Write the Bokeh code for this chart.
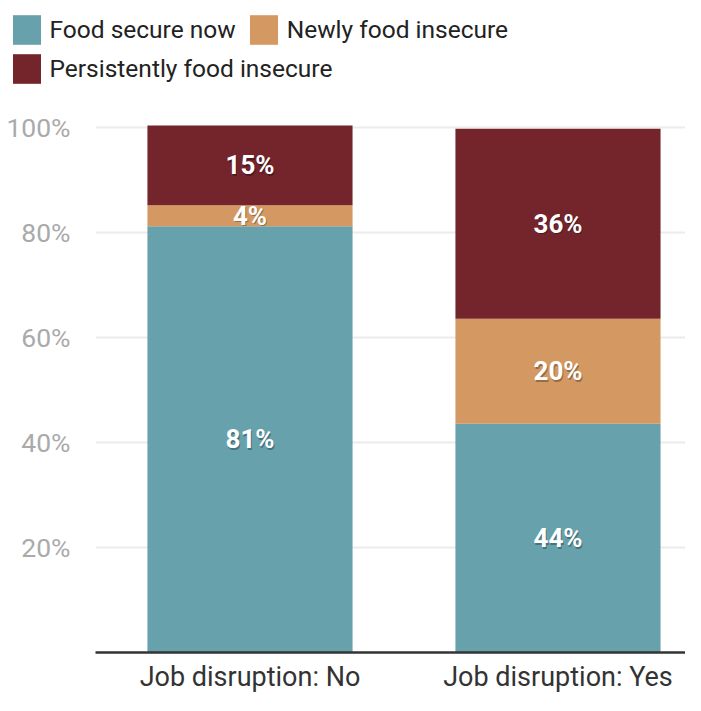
from bokeh.plotting import figure
from bokeh.layouts import column
from bokeh.models import ColumnDataSource, FixedTicker, Range1d, Legend, LegendItem
from bokeh.core.properties import value
from bokeh.embed import file_html
from bokeh.resources import INLINE

categories = ["Job disruption: No", "Job disruption: Yes"]
series = ["Food secure now", "Newly food insecure", "Persistently food insecure"]
food_secure = [81.2, 43.6]
newly_insecure = [4.0, 20.0]
persistently_insecure = [15.2, 36.2]
colors = ["#66a1ac", "#d49962", "#73252b"]
y_ticks = [20, 40, 60, 80, 100]

FONT = "Roboto"

xs = list(range(len(categories)))
src = ColumnDataSource(dict(x=xs, fs=food_secure, ni=newly_insecure, pi=persistently_insecure))

# ---------- main chart ----------
p = figure(width=685, height=600, output_backend="svg", toolbar_location=None,
           x_range=Range1d(-0.5016, 1.414), y_range=Range1d(0, 105.17),
           min_border_left=95, min_border_right=0, min_border_top=5, min_border_bottom=30)
p.outline_line_color = None
p.frame_align = False

rs = p.vbar_stack(["fs", "ni", "pi"], x="x", width=0.666, source=src, color=colors, line_color=None)

lx, ly, lt = [], [], []
for i in xs:
    base = 0.0
    for vals in (food_secure, newly_insecure, persistently_insecure):
        v = vals[i]
        lx.append(i)
        ly.append(base + v / 2)
        lt.append(f"{round(v)}%")
        base += v
lsrc = ColumnDataSource(dict(x=lx, y=ly, t=lt))
p.text(x="x", y="y", text="t", source=lsrc, text_align="center", text_baseline="middle",
       text_font=value(FONT), text_font_style="bold", text_font_size="26px",
       text_color="black", text_alpha=0.3, x_offset=1, y_offset=1.5)
p.text(x="x", y="y", text="t", source=lsrc, text_align="center", text_baseline="middle",
       text_font=value(FONT), text_font_style="bold", text_font_size="26px",
       text_color="white")

p.xaxis.ticker = FixedTicker(ticks=xs)
p.xaxis.major_label_overrides = {i: c for i, c in enumerate(categories)}
p.xaxis.axis_line_color = "#333333"
p.xaxis.axis_line_width = 2.5
p.xaxis.major_tick_line_color = None
p.xaxis.minor_tick_line_color = None
p.xaxis.major_label_text_font = FONT
p.xaxis.major_label_text_font_size = "27px"
p.xaxis.major_label_text_color = "#333333"
p.xaxis.major_label_standoff = 2

p.yaxis.ticker = FixedTicker(ticks=y_ticks)
p.yaxis.major_label_overrides = {t: f"{t}%" for t in y_ticks}
p.yaxis.axis_line_color = None
p.yaxis.major_tick_line_color = None
p.yaxis.minor_tick_line_color = None
p.yaxis.major_label_text_font = FONT
p.yaxis.major_label_text_font_size = "26.5px"
p.yaxis.major_label_text_color = "#aaaaaa"
p.yaxis.major_label_standoff = 19

p.xgrid.grid_line_color = None
p.ygrid.ticker = FixedTicker(ticks=y_ticks)
p.ygrid.grid_line_color = "#ebebeb"
p.ygrid.grid_line_width = 2
p.ygrid.level = "underlay"

# ---------- legend strip ----------
lg_fig = figure(width=685, height=95, output_backend="svg", toolbar_location=None,
                x_axis_type=None, y_axis_type=None, x_range=Range1d(0, 1), y_range=Range1d(0, 1),
                min_border=0)
lg_fig.frame_align = False
lg_fig.outline_line_color = None
lg_fig.xgrid.grid_line_color = None
lg_fig.ygrid.grid_line_color = None
# swatch renderers for the legend (kept outside the visible range)
sw = ColumnDataSource(dict(x=[5], top=[1]))
lg_rs = [lg_fig.vbar(x="x", top="top", width=0.5, source=sw, color=c, line_color=None) for c in colors]

def make_legend(items, loc):
    return Legend(items=items, location=loc, orientation="horizontal",
                  glyph_width=35, glyph_height=37, label_standoff=6, spacing=10,
                  padding=0, margin=0, border_line_color=None, background_fill_alpha=0,
                  label_text_font=FONT, label_text_font_size="24.5px",
                  label_text_color="#222222", label_height=37)

leg1 = make_legend([LegendItem(label=series[0], renderers=[lg_rs[0]]),
                    LegendItem(label=series[1], renderers=[lg_rs[1]])], (8.5, 47.5))
leg2 = make_legend([LegendItem(label=series[2], renderers=[lg_rs[2]])], (8.5, 8.5))
lg_fig.add_layout(leg1, "center")
lg_fig.add_layout(leg2, "center")

layout = column(lg_fig, p, spacing=0)
open("out.html", "w").write(file_html(layout, INLINE))
